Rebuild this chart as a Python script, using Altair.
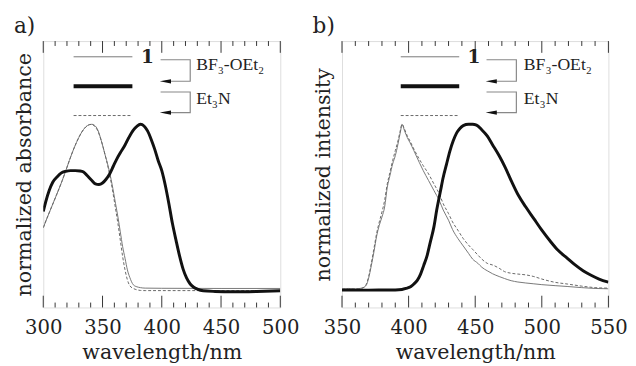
import altair as alt
import pandas as pd

FONT = "DejaVu Serif"
FONT_LEG = "serif"

# ---------------- panel a: absorbance ----------------
a_wl_1 = [300, 303, 307, 311, 316, 320, 324, 328, 332, 336, 339, 341, 343, 346, 349, 352, 355, 358, 361, 363, 365, 367, 369, 371, 373, 376, 379, 382, 386, 400, 450, 500]
a_v_1 = [0.375, 0.43, 0.50, 0.57, 0.66, 0.74, 0.82, 0.89, 0.947, 0.985, 0.998, 1.0, 0.995, 0.966, 0.90, 0.82, 0.74, 0.64, 0.52, 0.44, 0.35, 0.26, 0.19, 0.12, 0.075, 0.03, 0.018, 0.013, 0.01, 0.009, 0.008, 0.008]

a_wl_3 = [300, 303, 307, 311, 316, 320, 324, 328, 332, 336, 339, 341, 343, 346, 349, 352, 355, 358, 361, 363, 365, 367, 369, 371, 373, 376, 379, 382, 386, 400, 450, 500]
a_v_3 = [0.375, 0.43, 0.50, 0.57, 0.66, 0.74, 0.82, 0.89, 0.947, 0.985, 0.998, 1.0, 0.99, 0.96, 0.90, 0.82, 0.73, 0.62, 0.49, 0.40, 0.30, 0.20, 0.12, 0.06, 0.025, 0.008, 0.0, -0.004, -0.005, -0.005, -0.005, -0.005]

a_wl_bf = [300, 302, 305, 308, 312, 315, 319, 323, 327, 331, 334, 337, 341, 344, 347, 350, 353, 356, 359, 362, 365, 369, 372, 376, 379, 382, 385, 388, 391, 394, 397, 400, 403, 406, 409, 412, 415, 418, 421, 424, 427, 430, 435, 445, 460, 480, 500]
a_v_bf = [0.473, 0.53, 0.60, 0.65, 0.685, 0.705, 0.716, 0.72, 0.72, 0.718, 0.712, 0.69, 0.66, 0.64, 0.636, 0.645, 0.668, 0.70, 0.745, 0.79, 0.828, 0.875, 0.917, 0.965, 0.988, 1.0, 0.99, 0.96, 0.91, 0.85, 0.78, 0.72, 0.63, 0.52, 0.40, 0.30, 0.205, 0.125, 0.07, 0.035, 0.015, 0.004, -0.006, -0.01, -0.012, -0.01, -0.006]

# ---------------- panel b: emission ----------------
b_wl_1 = [350, 355, 360, 365, 368, 370, 372, 374, 376, 378, 380, 382, 384, 386, 388, 390, 392, 394, 395, 397, 399, 401, 404, 408, 411, 415, 419, 423, 426, 430, 433, 437, 441, 445, 448, 452, 455, 459, 463, 468, 472, 477, 482, 488, 494, 500, 510, 519, 530, 540, 550]
b_v_1 = [0.006, 0.008, 0.006, 0.01, 0.025, 0.07, 0.146, 0.23, 0.324, 0.39, 0.44, 0.50, 0.62, 0.69, 0.76, 0.81, 0.88, 0.96, 1.0, 0.96, 0.92, 0.89, 0.84, 0.77, 0.72, 0.66, 0.60, 0.54, 0.482, 0.42, 0.364, 0.31, 0.265, 0.22, 0.186, 0.16, 0.136, 0.115, 0.097, 0.08, 0.068, 0.055, 0.047, 0.041, 0.036, 0.031, 0.025, 0.02, 0.013, 0.008, 0.006]

b_wl_3 = [350, 355, 360, 365, 368, 370, 372, 374, 376, 378, 380, 382, 384, 386, 388, 390, 392, 394, 395, 397, 399, 401, 404, 408, 411, 415, 419, 423, 426, 430, 433, 437, 441, 445, 448, 452, 455, 459, 463, 468, 472, 477, 482, 488, 494, 500, 510, 519, 530, 540, 550]
b_v_3 = [0.004, 0.006, 0.005, 0.01, 0.03, 0.08, 0.16, 0.25, 0.34, 0.41, 0.47, 0.54, 0.64, 0.71, 0.78, 0.84, 0.90, 0.97, 1.0, 0.97, 0.93, 0.90, 0.85, 0.79, 0.75, 0.70, 0.64, 0.58, 0.52, 0.46, 0.41, 0.36, 0.31, 0.27, 0.245, 0.21, 0.185, 0.16, 0.15, 0.13, 0.11, 0.10, 0.095, 0.09, 0.08, 0.065, 0.045, 0.035, 0.022, 0.013, 0.01]

b_wl_bf = [350, 370, 390, 395, 398, 401.5, 404, 406.5, 409, 411.3, 414, 416.2, 419, 421.1, 424, 426, 428.5, 431, 433.5, 436, 438.5, 441, 445, 448, 451, 455, 459, 463, 468, 472.5, 477, 482.4, 488, 494, 500, 506.4, 512, 518.6, 525, 531, 537, 543, 550]
b_v_bf = [-0.002, -0.002, -0.001, 0.002, 0.008, 0.018, 0.035, 0.057, 0.095, 0.146, 0.21, 0.285, 0.38, 0.482, 0.6, 0.68, 0.76, 0.838, 0.9, 0.947, 0.975, 0.992, 1.0, 1.0, 0.995, 0.966, 0.93, 0.877, 0.81, 0.74, 0.66, 0.571, 0.50, 0.43, 0.36, 0.293, 0.24, 0.194, 0.15, 0.115, 0.088, 0.065, 0.046]

# ---------------- annotations (data space) ----------------
leg_v = [1.408, 1.23, 1.053]          # y of the three sample lines
a_leg_x = [325.6, 375.2]
b_leg_x = [394.1, 438.0]
a_one_x, b_one_x = 388.0, 449.1
a_br_x = [398.5, 424.0]               # bracket tip / vertical
b_br_x = [458.0, 480.9]
a_txt_x, b_txt_x = 429.0, 486.5
br1_v = [1.39, 1.26]
br2_v = [1.195, 1.071]
txt_labels = ["BF\u2083-OEt\u2082", "Et\u2083N"]
txt_v = [1.36, 1.15]

Y_DOMAIN = [-0.107, 1.503]
H = 272


def panel(tag, xdom, xmajor, width, ytitle, s1, s3, sbf, leg_x, one_x, br_x, txt_x):
    xaxis = alt.Axis(values=xmajor, ticks=False, domain=False, grid=False,
                     labelFont=FONT, labelFontSize=20, labelColor="#222", labelFlush=False,
                     labelPadding=11, title="wavelength/nm", titleFont=FONT,
                     titleFontSize=21, titleFontWeight="normal", titleColor="#222",
                     titlePadding=4)
    yaxis = alt.Axis(labels=False, ticks=False, domain=False, grid=False,
                     title=ytitle, titleFont=FONT, titleFontSize=21,
                     titleFontWeight="normal", titleColor="#222", titlePadding=9)
    xs = alt.Scale(domain=xdom, nice=False, zero=False)
    ys = alt.Scale(domain=Y_DOMAIN, nice=False, zero=False)

    def X(f):
        return alt.X(f, type="quantitative", scale=xs, axis=xaxis)

    def Y(f):
        return alt.Y(f, type="quantitative", scale=ys, axis=yaxis)

    def curve(wl, v, **style):
        df = pd.DataFrame({"wl": wl, "v": v})
        return alt.Chart(df).mark_line(interpolate="monotone", clip=True, **style).encode(x=X("wl"), y=Y("v"))

    l1 = curve(*s1, color="#777", strokeWidth=1)
    l3 = curve(*s3, color="#666", strokeWidth=1, strokeDash=[3, 2])
    lbf = curve(*sbf, color="#111", strokeWidth=3)

    # inward ticks
    minor = [t for t in range(xdom[0], xdom[1] + 1, 10) if t % 50 != 0]
    tdf_major = pd.DataFrame({"wl": xmajor})
    tdf_minor = pd.DataFrame({"wl": minor})
    tick_style = dict(color="#333", strokeWidth=1)
    ticks = [
        alt.Chart(tdf_major).mark_rule(**tick_style).encode(x=X("wl"), y=alt.value(0), y2=alt.value(12)),
        alt.Chart(tdf_major).mark_rule(**tick_style).encode(x=X("wl"), y=alt.value(H), y2=alt.value(H - 12)),
        alt.Chart(tdf_minor).mark_rule(**tick_style).encode(x=X("wl"), y=alt.value(0), y2=alt.value(5)),
        alt.Chart(tdf_minor).mark_rule(**tick_style).encode(x=X("wl"), y=alt.value(H), y2=alt.value(H - 5)),
    ]

    # legend sample lines
    def sample(v, **style):
        df = pd.DataFrame({"wl": [leg_x[0]], "wl2": [leg_x[1]], "v": [v]})
        return alt.Chart(df).mark_rule(**style).encode(x=X("wl"), x2="wl2", y=Y("v"))

    s_1 = sample(leg_v[0], color="#777", strokeWidth=1)
    s_bf = sample(leg_v[1], color="#111", strokeWidth=4)
    s_3 = sample(leg_v[2], color="#666", strokeWidth=1, strokeDash=[3, 2])

    one = alt.Chart(pd.DataFrame({"wl": [one_x], "v": [leg_v[0]], "t": ["1"]})).mark_text(
        font=FONT, fontSize=19, fontWeight="bold", color="#222", baseline="middle").encode(
        x=X("wl"), y=Y("v"), text="t:N")

    # brackets with arrows
    bdf = pd.DataFrame({
        "wl": [br_x[0] + 0.5, br_x[1], br_x[1], br_x[0] + 4,
               br_x[0] + 0.5, br_x[1], br_x[1], br_x[0] + 4],
        "v": [br1_v[0], br1_v[0], br1_v[1], br1_v[1],
              br2_v[0], br2_v[0], br2_v[1], br2_v[1]],
        "o": [0, 1, 2, 3, 0, 1, 2, 3],
        "g": ["a"] * 4 + ["b"] * 4,
    })
    brackets = alt.Chart(bdf).mark_line(color="#888", strokeWidth=1.2).encode(
        x=X("wl"), y=Y("v"), order="o:Q", detail="g:N")
    adf = pd.DataFrame({"wl": [br_x[0], br_x[0]], "v": [br1_v[1], br2_v[1]]})
    arrows = alt.Chart(adf).mark_point(
        shape="M-1,0L1,-0.38L1,0.38Z", filled=True, color="#111", opacity=1,
        size=130, xOffset=5.5).encode(x=X("wl"), y=Y("v"))

    tdf = pd.DataFrame({"wl": [txt_x, txt_x], "v": txt_v, "t": txt_labels})
    texts = alt.Chart(tdf).mark_text(font=FONT_LEG, fontSize=18, color="#222", align="left",
                                     baseline="middle").encode(x=X("wl"), y=Y("v"), text="t:N")

    return alt.layer(l1, l3, lbf, *ticks, s_1, s_bf, s_3, one, brackets, arrows, texts).properties(
        width=width, height=H,
        title=alt.TitleParams(tag, anchor="start", frame="bounds", font=FONT, fontSize=22,
                              fontWeight="normal", color="#222", offset=3),
    )


pa = panel("a)", [300, 500], [300, 350, 400, 450, 500], 242, "normalized absorbance",
           (a_wl_1, a_v_1), (a_wl_3, a_v_3), (a_wl_bf, a_v_bf),
           a_leg_x, a_one_x, a_br_x, a_txt_x)
pb = panel("b)", [350, 550], [350, 400, 450, 500, 550], 272, "normalized intensity",
           (b_wl_1, b_v_1), (b_wl_3, b_v_3), (b_wl_bf, b_v_bf),
           b_leg_x, b_one_x, b_br_x, b_txt_x)

chart = alt.hconcat(pa, pb, spacing=12).properties(
    padding={"left": 5, "top": 3, "right": 0, "bottom": 0}
).configure_view(stroke="#333", strokeWidth=1).configure(background="white")

chart.save("out.html", embed_options={"renderer": "svg", "actions": False})
